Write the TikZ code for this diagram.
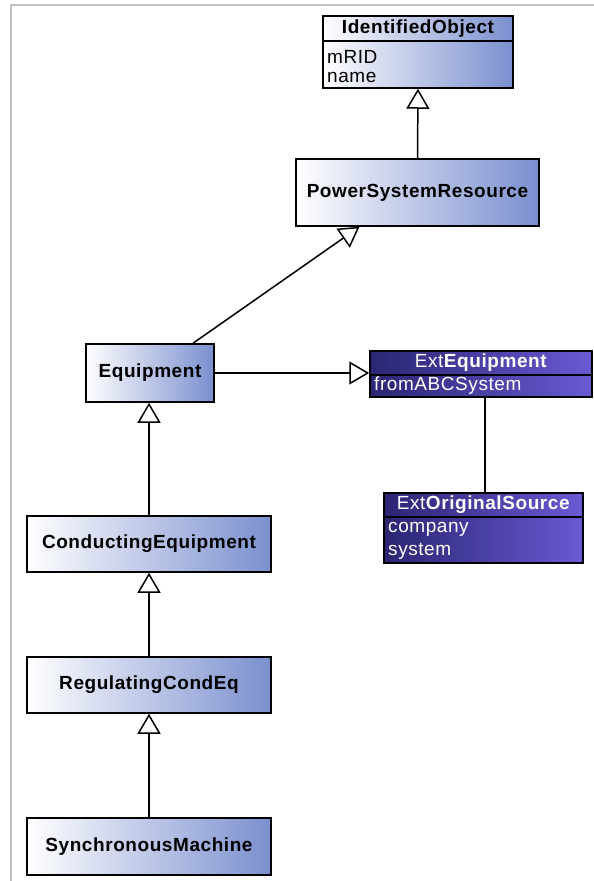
\documentclass[tikz,border=0pt]{standalone}
\usepackage{fontspec}
\setmainfont{Liberation Sans}
\newfontfamily\lsfont[LetterSpace=3]{Liberation Sans}
\usetikzlibrary{arrows.meta,calc}
\definecolor{lightend}{RGB}{122,143,207}
\definecolor{darkstart}{RGB}{42,38,115}
\definecolor{darkend}{RGB}{104,90,212}
\definecolor{frame}{RGB}{192,192,192}
\tikzset{
  cls/.style={draw=black, line width=1.5pt, rectangle, inner sep=0pt,
    left color=white, right color=lightend},
  extcls/.style={draw=black, line width=1.5pt, rectangle, inner sep=0pt,
    left color=darkstart, right color=darkend},
  hdr/.style={font=\lsfont\fontsize{19}{22}\selectfont\bfseries, text=black},
  attr/.style={font=\lsfont\fontsize{19}{22}\selectfont, anchor=west, inner sep=0pt, text=black},
  exthdr/.style={font=\lsfont\fontsize{19}{22}\selectfont, text=white},
  extattr/.style={font=\lsfont\fontsize{19}{22}\selectfont, anchor=west, inner sep=0pt, text=white},
  gen/.style={line width=1.5pt, -{Triangle[open, length=20pt, width=23pt, fill=white]}},
  assoc/.style={line width=1.5pt},
}
\begin{document}
\begin{tikzpicture}[x=1pt, y=-1pt]
\useasboundingbox (0,0) rectangle (594,881);
\fill[white] (0,0) rectangle (594,881);
\draw[frame, line width=2pt] (11,881) -- (11,5) -- (594,5);

% IdentifiedObject
\node[cls, minimum width=190pt, minimum height=72pt] (io) at (418,52) {};
\draw[line width=1.5pt] (io.west |- 0,41) -- (io.east |- 0,41);
\node[hdr] (ioh) at (418,28.5) {IdentifiedObject};
\node[attr] (ioa) at (327,57) {mRID};
\node[attr] (iob) at (327,77) {name};

% PowerSystemResource
\node[cls, minimum width=243pt, minimum height=67pt, hdr] (psr) at (417.5,192.5) {PowerSystemResource};

% Equipment
\node[cls, minimum width=128pt, minimum height=58pt, hdr] (eq) at (150,373) {Equipment};

% ExtEquipment
\node[extcls, minimum width=222pt, minimum height=46pt] (ext) at (481,374) {};
\draw[line width=1.5pt] (ext.west |- 0,375) -- (ext.east |- 0,375);
\node[exthdr] (exth) at (481,363) {Ext\textbf{Equipment}};
\node[extattr] (exta) at (374,386) {fromABCSystem};

% ExtOriginalSource
\node[extcls, minimum width=199pt, minimum height=70pt] (eos) at (483.5,528) {};
\draw[line width=1.5pt] (eos.west |- 0,517) -- (eos.east |- 0,517);
\node[exthdr] (eosh) at (483.5,505) {Ext\textbf{OriginalSource}};
\node[extattr] (eosa) at (388,529) {company};
\node[extattr] (eosb) at (388,551) {system};

% ConductingEquipment, RegulatingCondEq, SynchronousMachine
\node[cls, minimum width=244pt, minimum height=56pt, hdr] (ce) at (149,544) {ConductingEquipment};
\node[cls, minimum width=244pt, minimum height=56pt, hdr] (rce) at (149,685) {RegulatingCondEq};
\node[cls, minimum width=244pt, minimum height=57pt, hdr] (sm) at (149,846.5) {SynchronousMachine};

% connectors
\draw[gen] (psr.north) -- (io.south);
\draw[gen] ($(eq.north)+(43,0)$) -- ($(psr.south)+(-58,0)$);
\draw[gen] (eq.east) -- (eq.east -| ext.west);
\draw[assoc] ($(ext.south)+(4,0)$) -- ($(eos.north)+(1.5,0)$);
\draw[gen] (ce.north) -- (ce.north |- eq.south);
\draw[gen] (rce.north) -- (ce.south);
\draw[gen] (sm.north) -- (rce.south);
\end{tikzpicture}
\end{document}
